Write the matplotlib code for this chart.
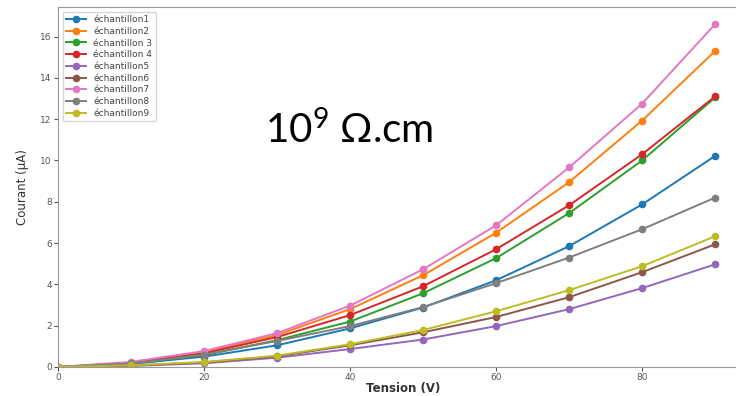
import matplotlib
matplotlib.use('Agg')
import matplotlib.pyplot as plt

# Tension (V)
tension = [0, 10, 20, 30, 40, 50, 60, 70, 80, 90]

# Courant (uA) per sample
ech1 = [0, 0.15, 0.50, 1.05, 1.87, 2.88, 4.20, 5.85, 7.87, 10.22]
ech2 = [0, 0.20, 0.72, 1.55, 2.80, 4.44, 6.50, 8.95, 11.93, 15.30]
ech3 = [0, 0.17, 0.57, 1.30, 2.20, 3.57, 5.27, 7.45, 10.00, 13.05]
ech4 = [0, 0.20, 0.66, 1.45, 2.51, 3.91, 5.70, 7.83, 10.30, 13.10]
ech5 = [0, 0.05, 0.18, 0.45, 0.87, 1.33, 1.98, 2.80, 3.82, 4.97]
ech6 = [0, 0.07, 0.22, 0.52, 1.05, 1.68, 2.42, 3.38, 4.59, 5.94]
ech7 = [0, 0.25, 0.77, 1.64, 2.97, 4.73, 6.86, 9.66, 12.75, 16.60]
ech8 = [0, 0.17, 0.60, 1.26, 1.98, 2.90, 4.06, 5.30, 6.67, 8.20]
ech9 = [0, 0.08, 0.24, 0.55, 1.10, 1.79, 2.70, 3.72, 4.88, 6.33]

labels = ['échantillon1', 'échantillon2', 'échantillon 3', 'échantillon 4',
          'échantillon5', 'échantillon6', 'échantillon7', 'échantillon8',
          'échantillon9']
series = [ech1, ech2, ech3, ech4, ech5, ech6, ech7, ech8, ech9]

plt.rcParams['mathtext.fontset'] = 'custom'
plt.rcParams['mathtext.rm'] = 'Lato'

fig = plt.figure(figsize=(7.36, 3.96), dpi=100)
# axes runs past the right edge on purpose (reference is cropped there)
ax = fig.add_axes([58 / 736, 29 / 396, 690 / 736, 360 / 396])

for vals, lab in zip(series, labels):
    ax.plot(tension, vals, marker='o', markersize=4.5, linewidth=1.4, label=lab)

ax.set_xlim(0, 94.5)
ax.set_ylim(0, 17.43)
ax.set_xticks([0, 20, 40, 60, 80])
ax.set_yticks(range(0, 17, 2))

for side in ax.spines.values():
    side.set_color('#999999')
ax.tick_params(labelsize=6.5, colors='#555555', length=3, pad=1.5)

ax.set_xlabel('Tension (V)', fontsize=8.5, fontweight='bold', color='#333333', labelpad=0)
ax.set_ylabel('Courant (µA)', fontsize=8.5, color='#333333', labelpad=8)

leg = ax.legend(loc='upper left', fontsize=6.5, labelspacing=0.3,
                handlelength=2.2, borderpad=0.4, frameon=True)
leg.get_frame().set_edgecolor('#cccccc')
for t in leg.get_texts():
    t.set_color('#444444')

fig.text(265 / 736, 1 - 130 / 396, r'$\mathregular{10^{9}}$ Ω.cm', fontsize=29,
         family='Lato', va='center', ha='left', color='black')

fig.savefig('out.png', dpi=100)
